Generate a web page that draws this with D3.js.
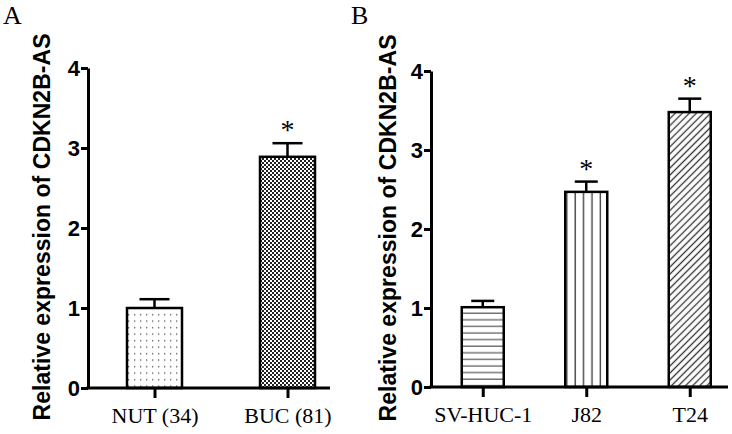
<!DOCTYPE html>
<html>
<head>
  <script src="https://cdn.jsdelivr.net/npm/d3@7"></script>
  <style>
    body { margin: 0; background: #fff; }
  </style>
</head>
<body>
  <main id="container"></main>
  <script>
    // panel A data
    const catsA = ["NUT (34)", "BUC (81)"];
    const meansA = [1.0, 2.89];
    const errA = [0.11, 0.17];
    const starA = [false, true];
    const patsA = ["dots", "checker"];

    // panel B data
    const catsB = ["SV-HUC-1", "J82", "T24"];
    const meansB = [1.01, 2.47, 3.48];
    const errB = [0.08, 0.13, 0.17];
    const starB = [false, true, true];
    const patsB = ["hlines", "vlines", "diag"];

    const yTicks = [0, 1, 2, 3, 4];
    const yTitle = "Relative expression of CDKN2B-AS";

    const width = 732, height = 434;

    const svg = d3.select("#container").append("svg")
      .attr("width", width)
      .attr("height", height);

    // fill patterns
    const defs = svg.append("defs");
    const dots = defs.append("pattern").attr("id", "dots")
      .attr("patternUnits", "userSpaceOnUse").attr("width", 6).attr("height", 6.5);
    dots.append("rect").attr("width", 6).attr("height", 6.5).attr("fill", "#fff");
    dots.append("rect").attr("x", 2).attr("y", 2).attr("width", 1.3).attr("height", 1.3).attr("fill", "#555");

    const checker = defs.append("pattern").attr("id", "checker")
      .attr("patternUnits", "userSpaceOnUse").attr("width", 4).attr("height", 4);
    checker.append("rect").attr("width", 4).attr("height", 4).attr("fill", "#fff");
    checker.append("rect").attr("width", 2).attr("height", 2).attr("fill", "#222");
    checker.append("rect").attr("x", 2).attr("y", 2).attr("width", 2).attr("height", 2).attr("fill", "#222");

    const hl = defs.append("pattern").attr("id", "hlines")
      .attr("patternUnits", "userSpaceOnUse").attr("width", 8).attr("height", 6.6);
    hl.append("rect").attr("width", 8).attr("height", 6.6).attr("fill", "#fff");
    hl.append("line").attr("x1", 0).attr("x2", 8).attr("y1", 3).attr("y2", 3)
      .attr("stroke", "#555").attr("stroke-width", 1.2);

    const vl = defs.append("pattern").attr("id", "vlines")
      .attr("patternUnits", "userSpaceOnUse").attr("width", 8.4).attr("height", 8);
    vl.append("rect").attr("width", 8.4).attr("height", 8).attr("fill", "#fff");
    vl.append("line").attr("y1", 0).attr("y2", 8).attr("x1", 4).attr("x2", 4)
      .attr("stroke", "#444").attr("stroke-width", 1.4);

    const dg = defs.append("pattern").attr("id", "diag")
      .attr("patternUnits", "userSpaceOnUse").attr("width", 5).attr("height", 5)
      .attr("patternTransform", "rotate(45)");
    dg.append("rect").attr("width", 5).attr("height", 5).attr("fill", "#fff");
    dg.append("line").attr("y1", 0).attr("y2", 5).attr("x1", 2.5).attr("x2", 2.5)
      .attr("stroke", "#333").attr("stroke-width", 1.3);

    function drawPanel(cfg) {
      const x = d3.scalePoint()
        .domain(cfg.cats)
        .range([cfg.x0, cfg.x0 + cfg.step * cfg.cats.length])
        .padding(0.5);

      const y = d3.scaleLinear()
        .domain([0, 4])
        .range([cfg.yBottom, cfg.yTop]);

      const g = svg.append("g");
      const data = cfg.cats.map((c, i) => ({ cat: c, v: cfg.means[i], e: cfg.errs[i], star: cfg.stars[i], pat: cfg.pats[i] }));

      // error bars (drawn under bars)
      g.selectAll(".err").data(data).join("line")
        .attr("x1", d => x(d.cat)).attr("x2", d => x(d.cat))
        .attr("y1", d => y(d.v)).attr("y2", d => y(d.v + d.e))
        .attr("stroke", "#000").attr("stroke-width", 2.5);
      g.selectAll(".cap").data(data).join("line")
        .attr("x1", d => x(d.cat) - cfg.cap / 2).attr("x2", d => x(d.cat) + cfg.cap / 2)
        .attr("y1", d => y(d.v + d.e)).attr("y2", d => y(d.v + d.e))
        .attr("stroke", "#000").attr("stroke-width", 2.5);

      // bars
      g.selectAll(".bar").data(data).join("rect")
        .attr("x", d => x(d.cat) - cfg.barW / 2)
        .attr("y", d => y(d.v))
        .attr("width", cfg.barW)
        .attr("height", d => y(0) - y(d.v))
        .attr("fill", d => `url(#${d.pat})`)
        .attr("stroke", "#000")
        .attr("stroke-width", 2.5);

      // asterisks
      g.selectAll(".star").data(data.filter(d => d.star)).join("text")
        .attr("x", d => x(d.cat))
        .attr("y", d => y(d.v + d.e) - 4)
        .attr("text-anchor", "middle")
        .style("font-family", "'Liberation Serif', serif")
        .style("font-size", "28px")
        .text("*");

      // y axis
      const yAxis = g.append("g")
        .attr("transform", `translate(${cfg.x0},0)`)
        .call(d3.axisLeft(y).tickValues(yTicks).tickSize(7).tickPadding(1).tickSizeOuter(0).tickFormat(d3.format("d")));
      yAxis.select(".domain").attr("stroke-width", 3);
      yAxis.selectAll(".tick line").attr("stroke-width", 3);
      yAxis.selectAll(".tick text")
        .style("font-family", "'Liberation Sans', Arial, sans-serif")
        .style("font-weight", "bold")
        .style("font-size", "22px")
        .attr("fill", "#000");

      // x axis
      const xAxis = g.append("g")
        .attr("transform", `translate(0,${cfg.yBottom})`)
        .call(d3.axisBottom(x).tickSize(10).tickPadding(9).tickSizeOuter(0));
      xAxis.select(".domain").remove();
      xAxis.append("line")
        .attr("x1", cfg.x0 - 1.5).attr("x2", cfg.xEnd)
        .attr("stroke", "#000").attr("stroke-width", 3);
      xAxis.selectAll(".tick line").attr("stroke-width", 3);
      xAxis.selectAll(".tick text")
        .style("font-family", "'Liberation Serif', 'Times New Roman', serif")
        .style("font-size", "22px")
        .attr("fill", "#000");

      // y title
      svg.append("text")
        .attr("transform", `translate(${cfg.titleX},${cfg.titleY}) rotate(-90)`)
        .attr("text-anchor", "middle")
        .attr("textLength", 387)
        .attr("lengthAdjust", "spacing")
        .style("font-family", "'Liberation Sans', Arial, sans-serif")
        .style("font-weight", "bold")
        .style("font-size", "23px")
        .text(yTitle);

      // panel letter
      svg.append("text")
        .attr("x", cfg.letterX).attr("y", 24)
        .style("font-family", "'Liberation Serif', 'Times New Roman', serif")
        .style("font-size", "26px")
        .text(cfg.letter);
    }

    drawPanel({
      cats: catsA, means: meansA, errs: errA, stars: starA, pats: patsA,
      x0: 88, step: 133, xEnd: 330, yTop: 68, yBottom: 388,
      barW: 55, cap: 30, titleX: 50, titleY: 227, letter: "A", letterX: 3
    });

    drawPanel({
      cats: catsB, means: meansB, errs: errB, stars: starB, pats: patsB,
      x0: 431, step: 103.5, xEnd: 728, yTop: 71, yBottom: 387,
      barW: 42, cap: 23, titleX: 396, titleY: 228, letter: "B", letterX: 351
    });
  </script>
</body>
</html>
